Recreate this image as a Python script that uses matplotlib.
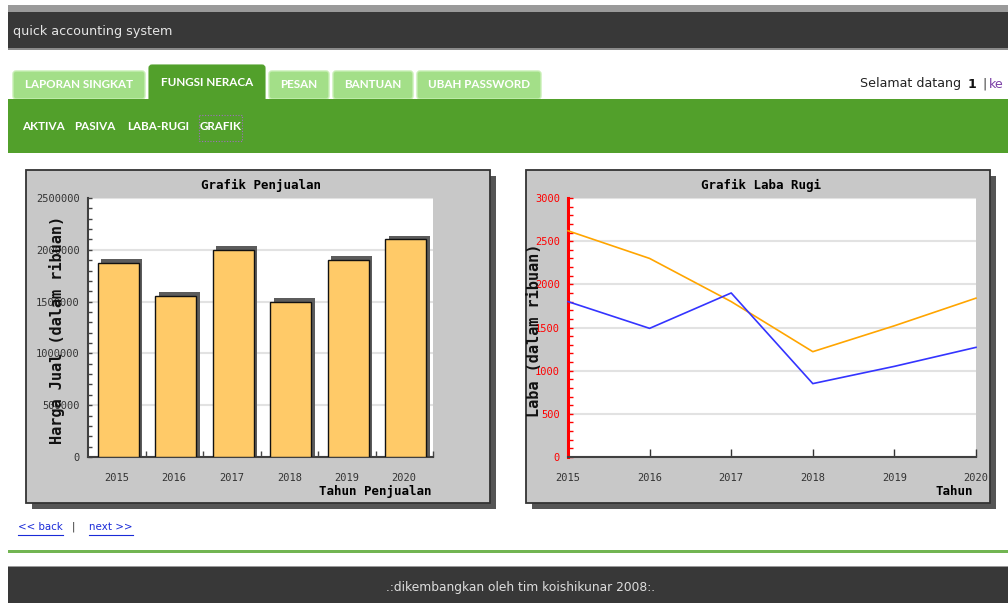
import matplotlib
matplotlib.use('Agg')
import matplotlib.pyplot as plt
from matplotlib.patches import Rectangle, FancyBboxPatch
from matplotlib.ticker import MultipleLocator, FuncFormatter
import numpy as np

# ---------------- data ----------------
years = ['2015', '2016', '2017', '2018', '2019', '2020']
penjualan = [1870000, 1550000, 2000000, 1500000, 1900000, 2100000]
laba_orange = [2620, 2300, 1800, 1220, 1520, 1840]
laba_blue = [1800, 1490, 1900, 850, 1050, 1270]
tabs = ['LAPORAN SINGKAT', 'FUNGSI NERACA', 'PESAN', 'BANTUAN', 'UBAH PASSWORD']
sublinks = ['AKTIVA', 'PASIVA', 'LABA-RUGI', 'GRAFIK']

W, H = 1008, 603
fig = plt.figure(figsize=(W / 100, H / 100), dpi=100)
fig.patch.set_facecolor('white')
bg = fig.add_axes([0, 0, 1, 1])
bg.set_xlim(0, W)
bg.set_ylim(H, 0)
bg.axis('off')

NARROW = ['Lato', 'DejaVu Sans']
SANS = ['DejaVu Sans']
MONO = ['DejaVu Sans Mono']


def rect(x0, y0, x1, y1, **kw):
    bg.add_patch(Rectangle((x0, y0), x1 - x0, y1 - y0, **kw))


# ---------------- header ----------------
rect(8, 5, W, 12, fc='#9a9a9a', ec='none')
rect(8, 12, W, 48, fc='#383838', ec='none')
rect(8, 48, W, 50, fc='#8a8a8a', ec='none')
bg.text(13, 31, 'quick accounting system', color='#e6e6e6', fontsize=9.2,
        family=SANS, va='center', ha='left')

# tabs
tab_x = [(13, 145), (149, 265), (269, 329), (333, 413), (417, 541)]
active = 1
for i, (label, (x0, x1)) in enumerate(zip(tabs, tab_x)):
    if i == active:
        bg.add_patch(FancyBboxPatch((x0, 65), x1 - x0, 40,
                                    boxstyle='round,pad=0,rounding_size=3',
                                    fc='#52a02b', ec='#52a02b', lw=0.8))
        ty = 83
    else:
        bg.add_patch(FancyBboxPatch((x0, 71), x1 - x0, 28,
                                    boxstyle='round,pad=0,rounding_size=3',
                                    fc='#a3df88', ec='#c8efb5', lw=1.0))
        ty = 85
    bg.text((x0 + x1) / 2, ty, label, color='white', fontsize=8.4,
            fontweight='bold', family=NARROW, ha='center', va='center')

# green sub-navigation bar
rect(8, 99, W, 153, fc='#52a02b', ec='none')
sub_x = [22, 74, 127, 200]
for label, x in zip(sublinks, sub_x):
    bg.text(x, 127, label, color='white', fontsize=8.4, fontweight='bold',
            family=NARROW, ha='left', va='center')
bg.add_patch(Rectangle((199, 115), 43, 26, fill=False, ec='#a070c0',
                       ls=(0, (1, 1.5)), lw=0.8))

# welcome text
bg.text(860, 84, 'Selamat datang', color='#222222', fontsize=9.1,
        family=SANS, ha='left', va='center')
bg.text(968, 84, '1', color='#111111', fontsize=9.1, fontweight='bold',
        family=SANS, ha='left', va='center')
bg.text(982, 84, '|', color='#333333', fontsize=9.1, family=SANS,
        ha='left', va='center')
bg.text(989, 84, 'ke', color='#7b3fa6', fontsize=9.1, family=SANS,
        ha='left', va='center')

# ---------------- chart panels ----------------
for px0 in (26, 526):
    rect(px0 + 6, 176, px0 + 470, 509, fc='#555555', ec='none')
    rect(px0, 170, px0 + 464, 503, fc='#c8c8c8', ec='#333333', lw=1.3)

# ---------------- footer ----------------
t_back = bg.text(18, 527, '<< back', color='#1a2bd8', fontsize=7.4,
                 family=SANS, ha='left', va='center')
bg.text(73, 527, '|', color='#333333', fontsize=7.4, family=SANS,
        ha='center', va='center')
t_next = bg.text(89, 527, 'next >>', color='#1a2bd8', fontsize=7.4,
                 family=SANS, ha='left', va='center')
rect(8, 550, W, 552.5, fc='#72b552', ec='none')
rect(8, 566, W, H, fc='#383838', ec='none')
rect(8, 566, W, 567, fc='#9a9a9a', ec='none')
bg.text(521, 587, '.:dikembangkan oleh tim koishikunar 2008:.', color='#dedede',
        fontsize=8.8, family=SANS, ha='center', va='center')


def px_axes(x0, y0, x1, y1):
    return fig.add_axes([x0 / W, 1 - y1 / H, (x1 - x0) / W, (y1 - y0) / H])


n = len(years)
idx = np.arange(n)

# ---------------- left chart: Grafik Penjualan ----------------
ax1 = px_axes(88, 198, 433, 457)
ax1.set_facecolor('white')
bw = 0.713
off = 0.03
vals = np.array(penjualan, dtype=float)
ax1.bar(idx + off + 0.06, vals + 38000, width=bw, color='#5c5c5c',
        linewidth=0, zorder=2)
ax1.bar(idx + off, vals, width=bw, color='#ffca68', edgecolor='#111111',
        linewidth=1.0, zorder=3)
ax1.set_xlim(-0.5, n - 0.5)
ax1.set_ylim(0, 2500000)
ax1.yaxis.set_major_locator(MultipleLocator(500000))
ax1.yaxis.set_minor_locator(MultipleLocator(100000))
ax1.yaxis.set_major_formatter(FuncFormatter(lambda v, p: f'{int(round(v))}'))
ax1.tick_params(axis='y', which='both', direction='in', color='#444444',
                length=3, width=1, labelsize=7.5, labelcolor='#333333', pad=5.8)
ax1.set_xticks(idx)
ax1.set_xticklabels(years)
ax1.set_xticks(idx + 0.5, minor=True)
ax1.tick_params(axis='x', which='major', length=0, pad=11.5, labelsize=7.5,
                labelcolor='#333333')
ax1.tick_params(axis='x', which='minor', direction='in', length=4.5,
                color='#444444', width=1)
for lab in ax1.get_xticklabels() + ax1.get_yticklabels():
    lab.set_family(MONO)
ax1.grid(axis='y', which='major', color='#e2e2e2', lw=1.5)
ax1.set_axisbelow(True)
for s in ('top', 'right'):
    ax1.spines[s].set_visible(False)
for s in ('left', 'bottom'):
    ax1.spines[s].set_color('#404040')
    ax1.spines[s].set_linewidth(1.5)
ax1.text(0.501, 1.05, 'Grafik Penjualan', transform=ax1.transAxes,
         ha='center', va='center', fontsize=9, fontweight='bold', family=MONO)
ax1.text(-0.09, 0.49, 'Harga Jual (dalam ribuan)', transform=ax1.transAxes,
         rotation=90, ha='center', va='center', fontsize=11,
         fontweight='bold', family=MONO, color='#111111')
ax1.text(0.997, -0.135, 'Tahun Penjualan', transform=ax1.transAxes,
         ha='right', va='center', fontsize=9, fontweight='bold', family=MONO)

# ---------------- right chart: Grafik Laba Rugi ----------------
ax2 = px_axes(568, 198, 976, 457)
ax2.set_facecolor('white')
ax2.plot(idx, laba_orange, color='#ffa500', lw=1.2, zorder=3, clip_on=False)
ax2.plot(idx, laba_blue, color='#3434ff', lw=1.2, zorder=3, clip_on=False)
ax2.set_xlim(0, n - 1)
ax2.set_ylim(0, 3000)
ax2.yaxis.set_major_locator(MultipleLocator(500))
ax2.yaxis.set_minor_locator(MultipleLocator(100))
ax2.tick_params(axis='y', which='both', direction='in', color='#ff0000',
                length=3.5, width=1, labelsize=7.5, labelcolor='#ff0000', pad=5.8)
ax2.set_xticks(idx)
ax2.set_xticklabels(years)
ax2.tick_params(axis='x', which='major', direction='in', length=5.5,
                color='#333333', width=1, pad=11.5, labelsize=7.5,
                labelcolor='#333333')
for lab in ax2.get_xticklabels() + ax2.get_yticklabels():
    lab.set_family(MONO)
ax2.grid(axis='y', which='major', color='#e2e2e2', lw=1.5)
ax2.set_axisbelow(True)
for s in ('top', 'right'):
    ax2.spines[s].set_visible(False)
ax2.spines['bottom'].set_color('#404040')
ax2.spines['bottom'].set_linewidth(1.5)
ax2.spines['left'].set_color('#ff0000')
ax2.spines['left'].set_linewidth(2.2)
ax2.text(0.473, 1.05, 'Grafik Laba Rugi', transform=ax2.transAxes,
         ha='center', va='center', fontsize=9, fontweight='bold', family=MONO)
ax2.text(-0.081, 0.49, 'Laba (dalam ribuan)', transform=ax2.transAxes,
         rotation=90, ha='center', va='center', fontsize=11,
         fontweight='bold', family=MONO, color='#111111')
ax2.text(0.993, -0.135, 'Tahun', transform=ax2.transAxes,
         ha='right', va='center', fontsize=9, fontweight='bold', family=MONO)

# underline links (measured from the rendered text)
fig.canvas.draw()
inv = bg.transData.inverted()
for t in (t_back, t_next):
    bb = t.get_window_extent()
    (xa, _), (xb, _) = inv.transform([(bb.x0, bb.y0), (bb.x1, bb.y0)])
    bg.plot([xa, xb], [535, 535], color='#1a2bd8', lw=0.8)

fig.savefig('out.png', dpi=100, facecolor='white')
